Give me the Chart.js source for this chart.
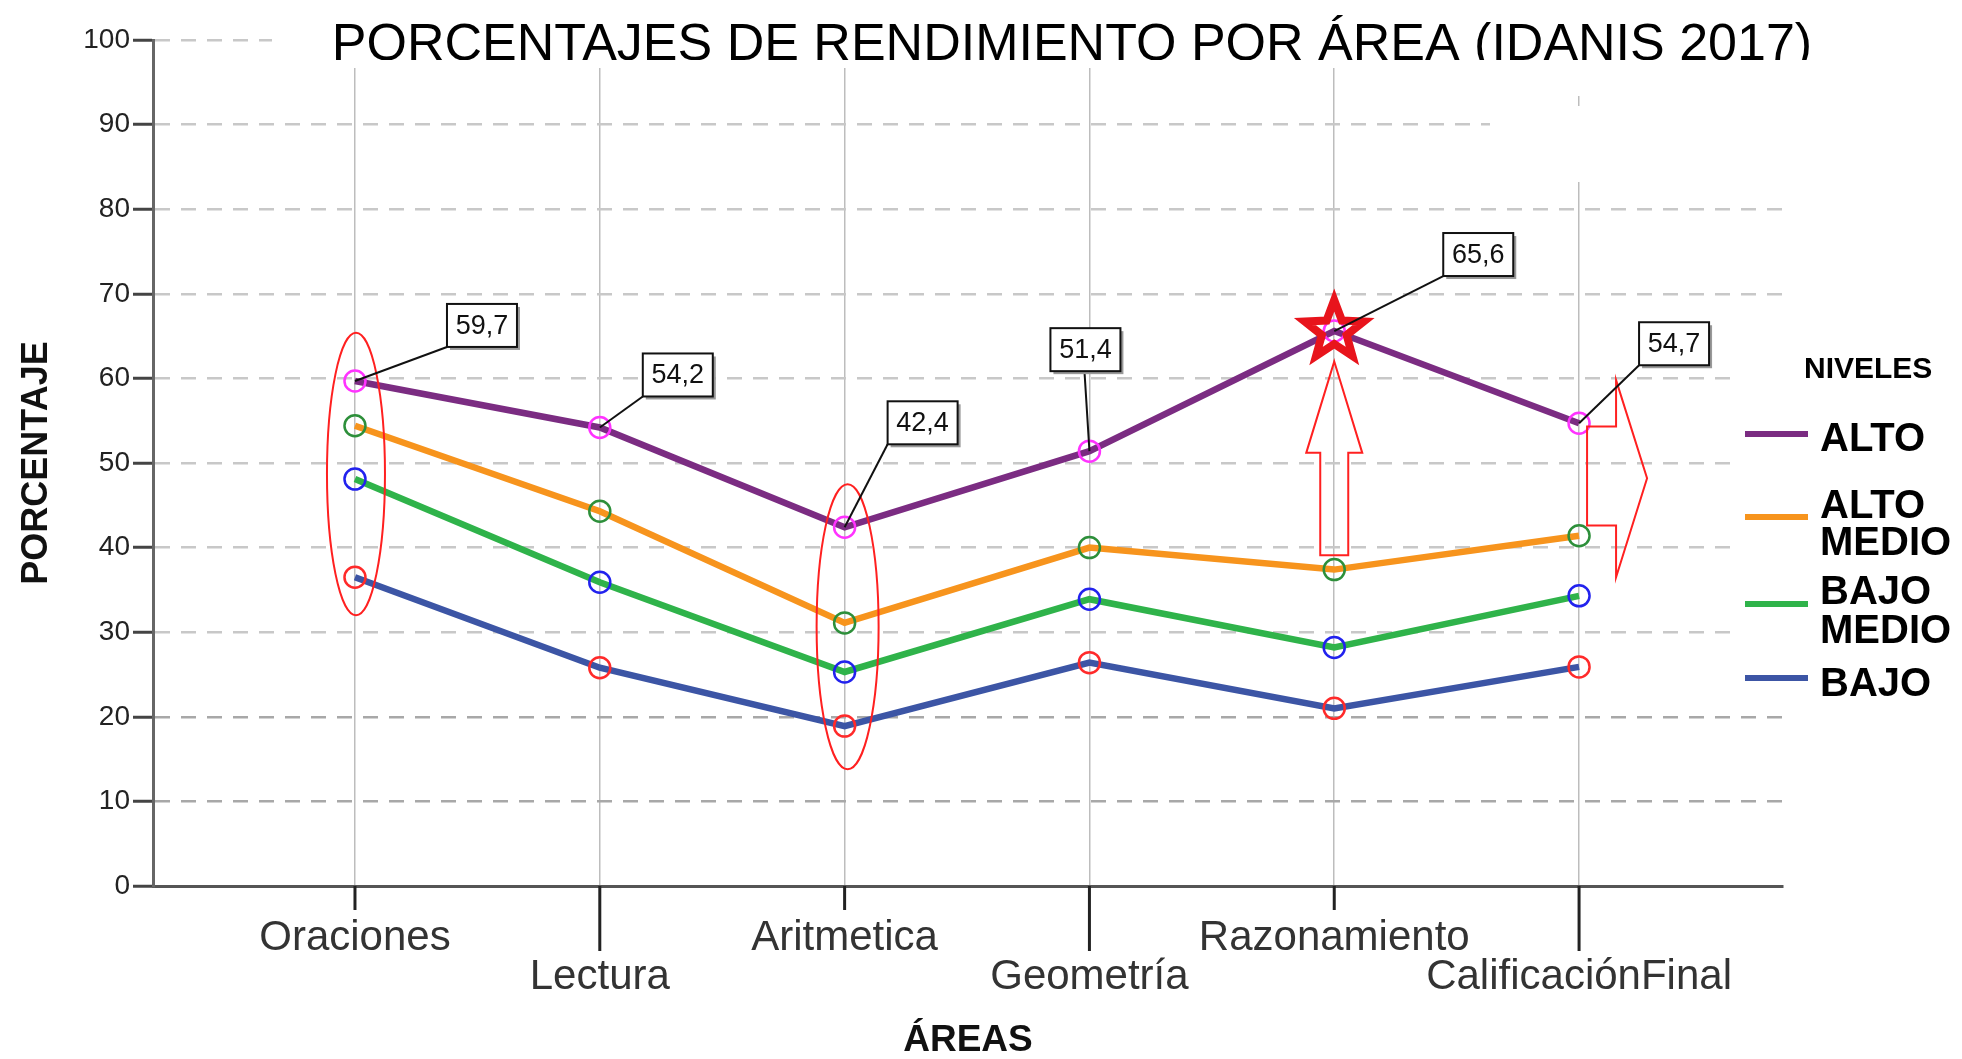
<!DOCTYPE html>
<html>
<head>
<meta charset="utf-8">
<script src="https://cdn.jsdelivr.net/npm/chart.js@4.4.1/dist/chart.umd.min.js"></script>
<style>
  html, body { margin: 0; padding: 0; background: #fff; }
  #grafico { display: block; }
</style>
</head>
<body>
<canvas id="grafico" width="1962" height="1059"></canvas>
<script>
// datos
const titulo = 'PORCENTAJES DE RENDIMIENTO POR ÁREA (IDANIS 2017)';
const areas = ['Oraciones', 'Lectura', 'Aritmetica', 'Geometría', 'Razonamiento', 'CalificaciónFinal'];
const niveles = ['ALTO', 'ALTO MEDIO', 'BAJO MEDIO', 'BAJO'];
const alto = [59.7, 54.2, 42.4, 51.4, 65.6, 54.7];
const altoMedio = [54.4, 44.3, 31.1, 40.0, 37.4, 41.4];
const bajoMedio = [48.1, 35.9, 25.3, 33.9, 28.2, 34.3];
const bajo = [36.5, 25.8, 18.9, 26.4, 21.0, 25.9];
const yTicks = [0, 10, 20, 30, 40, 50, 60, 70, 80, 90, 100];

const FONT = '"Liberation Sans", Arial, sans-serif';
const colLinea = ['#7B2C82', '#F7941D', '#2FB34A', '#3C55A5'];
const colPunto = ['#FF33FF', '#2D8F3A', '#2222EE', '#FF2A2A'];
const series = [alto, altoMedio, bajoMedio, bajo];

// cajas de etiqueta para ALTO: desplazamiento de la caja respecto al punto
const cajas = [
  { dx: 92, dy: -77, ax: 0 },
  { dx: 43, dy: -74, ax: 0 },
  { dx: 43, dy: -126, ax: 0 },
  { dx: -39, dy: -123, ax: 34 },
  { dx: 109, dy: -98, ax: 0 },
  { dx: 60, dy: -101, ax: 0 }
];

function toPt(chart, i, v) {
  return [chart.scales.x.getPixelForValue(i), chart.scales.y.getPixelForValue(v)];
}

const tapas = {
  id: 'tapas',
  beforeDatasetsDraw(chart) {
    const ctx = chart.ctx;
    const xs = chart.scales.x;
    ctx.save();
    // marcas del eje x (alternadas)
    ctx.strokeStyle = '#222';
    ctx.lineWidth = 3;
    areas.forEach((a, i) => {
      const x = xs.getPixelForValue(i);
      ctx.beginPath();
      ctx.moveTo(x, xs.top);
      ctx.lineTo(x, xs.top + (i % 2 ? 65 : 24));
      ctx.stroke();
    });
    // zonas blancas sobre la cuadricula
    ctx.fillStyle = '#fff';
    ctx.fillRect(272, 0, 1962 - 272, 68);
    ctx.fillRect(1490, 68, 472, 28);
    ctx.fillRect(1490, 106, 472, 76);
    ctx.fillRect(1737, 310, 225, 380);
    ctx.restore();
  }
};

const anotaciones = {
  id: 'anotaciones',
  afterDraw(chart) {
    const ctx = chart.ctx;
    const xs = chart.scales.x, ys = chart.scales.y;
    ctx.save();

    // titulo
    ctx.save();
    ctx.beginPath();
    ctx.rect(0, 0, 1962, 60);
    ctx.clip();
    ctx.fillStyle = '#000';
    ctx.font = '52px ' + FONT;
    ctx.textAlign = 'center';
    ctx.textBaseline = 'alphabetic';
    ctx.fillText(titulo, 1072, 60, 1489);
    ctx.restore();

    // elipses rojas
    ctx.strokeStyle = '#FF2020';
    ctx.lineWidth = 2;
    [[0, 1, 65.4, 32.0, 29], [2, 3, 47.5, 13.8, 31]].forEach(e => {
      const x = xs.getPixelForValue(e[0]) + e[1];
      const y1 = ys.getPixelForValue(e[2]), y2 = ys.getPixelForValue(e[3]);
      ctx.beginPath();
      ctx.ellipse(x, (y1 + y2) / 2, e[4], (y2 - y1) / 2, 0, 0, Math.PI * 2);
      ctx.stroke();
    });

    // flecha hacia arriba en Razonamiento
    let xc = xs.getPixelForValue(4);
    const yv = v => ys.getPixelForValue(v);
    ctx.beginPath();
    ctx.moveTo(xc, yv(62.0));
    ctx.lineTo(xc + 28, yv(51.2));
    ctx.lineTo(xc + 14, yv(51.2));
    ctx.lineTo(xc + 14, yv(39.1));
    ctx.lineTo(xc - 14, yv(39.1));
    ctx.lineTo(xc - 14, yv(51.2));
    ctx.lineTo(xc - 28, yv(51.2));
    ctx.closePath();
    ctx.stroke();

    // flecha hacia la derecha en CalificaciónFinal
    xc = xs.getPixelForValue(5);
    ctx.beginPath();
    ctx.moveTo(xc + 8, yv(54.3));
    ctx.lineTo(xc + 37, yv(54.3));
    ctx.lineTo(xc + 37, yv(59.8));
    ctx.lineTo(xc + 68, yv(48.2));
    ctx.lineTo(xc + 37, yv(36.5));
    ctx.lineTo(xc + 37, yv(42.6));
    ctx.lineTo(xc + 8, yv(42.6));
    ctx.closePath();
    ctx.stroke();

    // estrella en el maximo
    const [sx, sy] = toPt(chart, 4, alto[4]);
    ctx.beginPath();
    for (let k = 0; k < 10; k++) {
      const r = k % 2 ? 13 : 31;
      const a = -Math.PI / 2 + k * Math.PI / 5;
      const px = sx + r * Math.cos(a), py = sy + r * Math.sin(a);
      if (k === 0) ctx.moveTo(px, py); else ctx.lineTo(px, py);
    }
    ctx.closePath();
    ctx.strokeStyle = '#E8141C';
    ctx.lineWidth = 8;
    ctx.lineJoin = 'miter';
    ctx.stroke();

    // etiquetas de ALTO
    const w = 70, h = 43;
    alto.forEach((v, i) => {
      const [x, y] = toPt(chart, i, v);
      const c = cajas[i];
      const bx = x + c.dx, by = y + c.dy;
      ctx.strokeStyle = '#111';
      ctx.lineWidth = 2;
      ctx.beginPath();
      ctx.moveTo(x, y);
      ctx.lineTo(bx + c.ax, by + h);
      ctx.stroke();
      ctx.fillStyle = '#999';
      ctx.fillRect(bx + 3, by + 3, w, h);
      ctx.fillStyle = '#fff';
      ctx.fillRect(bx, by, w, h);
      ctx.strokeStyle = '#111';
      ctx.strokeRect(bx, by, w, h);
      ctx.fillStyle = '#111';
      ctx.font = '27px ' + FONT;
      ctx.textAlign = 'center';
      ctx.textBaseline = 'middle';
      ctx.fillText(v.toFixed(1).replace('.', ','), bx + w / 2, by + h / 2 + 1);
    });

    // leyenda
    ctx.fillStyle = '#000';
    ctx.textAlign = 'left';
    ctx.textBaseline = 'middle';
    ctx.font = 'bold 30px ' + FONT;
    ctx.fillText('NIVELES', 1804, 370);
    const filas = [[434, [438]], [517, [505, 542]], [604, [591, 630]], [678, [683]]];
    ctx.font = 'bold 40px ' + FONT;
    chart.data.datasets.forEach((ds, i) => {
      const [ly, ty] = filas[i];
      ctx.strokeStyle = ds.borderColor;
      ctx.lineWidth = 6;
      ctx.beginPath();
      ctx.moveTo(1745, ly);
      ctx.lineTo(1808, ly);
      ctx.stroke();
      const partes = ds.label.split(' ');
      partes.forEach((p, k) => ctx.fillText(p, 1820, ty[k] + 2));
    });
    ctx.restore();
  }
};

new Chart(document.getElementById('grafico'), {
  type: 'line',
  data: {
    datasets: niveles.map((n, k) => ({
      label: n,
      data: series[k].map((v, i) => ({ x: i, y: v })),
      borderColor: colLinea[k],
      backgroundColor: colLinea[k],
      borderWidth: 6.5,
      tension: 0,
      pointRadius: 10.5,
      pointBorderWidth: 2.5,
      pointBorderColor: colPunto[k],
      pointBackgroundColor: 'rgba(0,0,0,0)'
    }))
  },
  options: {
    responsive: false,
    animation: false,
    devicePixelRatio: 1,
    layout: { padding: { top: 40, right: 179, left: 0, bottom: 0 } },
    plugins: { legend: { display: false }, tooltip: { enabled: false } },
    events: [],
    scales: {
      x: {
        type: 'linear',
        min: -0.825,
        max: 5.833,
        afterBuildTicks: s => { s.ticks = areas.map((a, i) => ({ value: i })); },
        afterFit: s => { s.height = 173; },
        grid: { display: true, color: '#BDBDBD', lineWidth: 1.5, drawTicks: false },
        border: { display: true, color: '#555', width: 3 },
        ticks: {
          autoSkip: false,
          maxRotation: 0,
          padding: 33,
          color: '#333',
          font: { family: FONT, size: 42, lineHeight: 0.93 },
          callback: v => (v % 2 ? ['', areas[v]] : areas[v])
        },
        title: {
          display: true,
          text: 'ÁREAS',
          color: '#111',
          font: { family: FONT, size: 37, weight: 'bold', lineHeight: 1.0 },
          padding: { top: 0, bottom: 0 }
        }
      },
      y: {
        min: 0,
        max: 100,
        afterBuildTicks: s => { s.ticks = yTicks.map(v => ({ value: v })); },
        afterFit: s => { s.width = 153; },
        grid: {
          color: c => (c.tick && c.tick.value <= 20 ? '#A8A8A8' : '#C8C8C8'),
          lineWidth: 2.5,
          tickColor: '#444',
          tickWidth: 3,
          tickLength: 20,
          tickBorderDash: []
        },
        border: { display: true, color: '#666', width: 3, dash: [15, 11] },
        ticks: {
          padding: 3,
          color: '#222',
          font: { family: FONT, size: 28 }
        },
        title: {
          display: true,
          text: 'PORCENTAJE',
          color: '#111',
          font: { family: FONT, size: 36, weight: 'bold', lineHeight: 1.2 },
          padding: { top: 15, bottom: 0 }
        }
      }
    }
  },
  plugins: [tapas, anotaciones]
});
</script>
</body>
</html>
